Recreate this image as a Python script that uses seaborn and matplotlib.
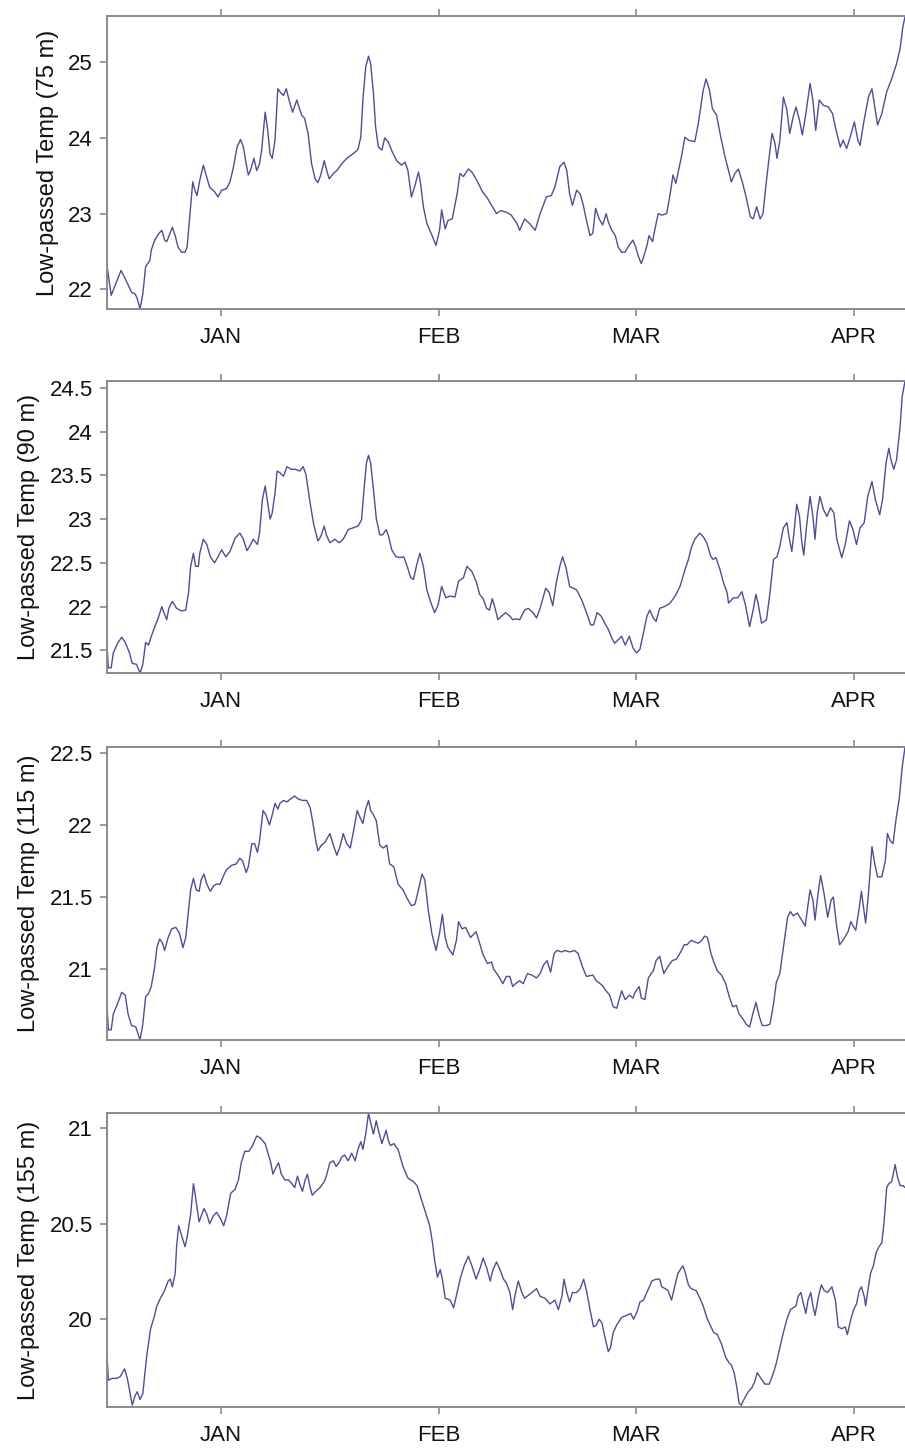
import matplotlib
matplotlib.use("Agg")
import seaborn as sns
from matplotlib import pyplot as plt

sns.set_style("ticks")
plt.rcParams['font.family'] = ['Liberation Sans', 'DejaVu Sans']

# days counted from 1 January
month_ticks = [0, 31, 59, 90]
month_labels = ["JAN", "FEB", "MAR", "APR"]

days_75 = [-16.2, -15.6, -14.2, -13.4, -12.7, -12.2, -11.9, -11.5, -11.1, -10.7, -10.4, -10.1, -9.9, -9.4, -8.8, -8.4,
           -8.0, -7.7, -6.9, -6.5, -6.1, -5.6, -5.1, -4.8, -4.3, -4.0, -3.7, -3.4, -3.0, -2.5, -2.0, -1.6, -0.9, -0.4,
           0.1, 0.8, 1.3, 1.8, 2.3, 2.8, 3.2, 3.6, 3.9, 4.2, 4.7, 5.1, 5.5, 5.8, 6.3, 6.6, 7.0, 7.3, 7.7, 8.1, 8.4, 8.9,
           9.3, 9.7, 10.2, 10.8, 11.1, 11.5, 11.9, 12.4, 12.9, 13.4, 13.8, 14.2, 14.7, 15.0, 15.4, 16.0, 16.5, 17.2,
           17.9, 18.8, 19.5, 19.9, 20.2, 20.6, 21.0, 21.3, 21.7, 22.0, 22.4, 22.9, 23.3, 23.8, 24.4, 25.0, 25.7, 26.2,
           26.6, 27.1, 27.6, 28.1, 28.4, 28.8, 29.3, 29.9, 30.6, 31.1, 31.4, 31.9, 32.3, 32.9, 33.6, 34.0, 34.5, 35.2,
           35.7, 36.4, 37.2, 37.8, 38.5, 39.2, 39.8, 40.6, 41.3, 42.1, 42.5, 43.2, 43.9, 44.7, 45.4, 46.3, 47.0, 47.5,
           48.2, 48.8, 49.2, 49.6, 50.0, 50.6, 51.1, 51.5, 52.0, 52.5, 52.9, 53.3, 53.8, 54.3, 54.8, 55.1, 55.6, 56.1,
           56.5, 57.0, 57.5, 57.9, 58.6, 59.0, 59.4, 59.8, 60.2, 60.6, 60.9, 61.4, 61.7, 62.2, 62.7, 63.4, 63.9, 64.3,
           64.7, 65.0, 65.5, 66.0, 66.5, 67.4, 67.9, 68.6, 69.0, 69.5, 69.9, 70.5, 71.1, 71.7, 72.2, 72.6, 73.1, 73.6,
           74.1, 74.7, 75.3, 75.7, 76.2, 76.7, 77.1, 77.6, 78.1, 78.4, 78.8, 79.1, 79.5, 80.0, 80.5, 80.9, 81.4, 81.8,
           82.3, 82.7, 83.2, 83.8, 84.2, 84.6, 85.1, 85.7, 86.4, 87.0, 87.5, 88.1, 88.5, 89.0, 89.5, 90.1, 90.6, 90.9,
           91.4, 92.1, 92.6, 93.0, 93.4, 94.0, 94.7, 95.4, 96.1, 96.6, 97.0, 97.3]
temp_75 = [22.32, 21.92, 22.25, 22.10, 21.96, 21.94, 21.88, 21.74, 21.94, 22.30, 22.34, 22.38, 22.52, 22.65, 22.74,
           22.78, 22.65, 22.63, 22.82, 22.71, 22.56, 22.49, 22.49, 22.56, 23.09, 23.42, 23.31, 23.24, 23.44, 23.64,
           23.48, 23.35, 23.29, 23.22, 23.31, 23.33, 23.42, 23.62, 23.88, 23.98, 23.88, 23.66, 23.51, 23.57, 23.73,
           23.57, 23.66, 23.84, 24.34, 24.15, 23.79, 23.73, 23.97, 24.65, 24.61, 24.56, 24.65, 24.50, 24.34, 24.50,
           24.41, 24.30, 24.26, 24.06, 23.66, 23.46, 23.41, 23.51, 23.70, 23.59, 23.46, 23.53, 23.57, 23.66, 23.73,
           23.79, 23.85, 24.01, 24.50, 24.94, 25.08, 24.98, 24.59, 24.15, 23.88, 23.84, 24.00, 23.95, 23.81, 23.70,
           23.64, 23.68, 23.57, 23.22, 23.37, 23.55, 23.40, 23.09, 22.87, 22.74, 22.58, 22.78, 23.05, 22.80, 22.91,
           22.93, 23.26, 23.53, 23.49, 23.59, 23.55, 23.44, 23.29, 23.22, 23.11, 23.00, 23.04, 23.02, 22.98, 22.87,
           22.78, 22.93, 22.87, 22.78, 23.00, 23.22, 23.24, 23.35, 23.62, 23.68, 23.57, 23.26, 23.11, 23.31, 23.26,
           23.13, 22.91, 22.71, 22.74, 23.07, 22.93, 22.85, 23.00, 22.89, 22.78, 22.71, 22.56, 22.49, 22.49, 22.56,
           22.65, 22.56, 22.43, 22.34, 22.45, 22.58, 22.71, 22.63, 22.78, 23.00, 22.98, 23.00, 23.26, 23.51, 23.40,
           23.53, 23.75, 24.01, 23.97, 23.95, 24.19, 24.63, 24.78, 24.63, 24.39, 24.30, 24.01, 23.75, 23.57, 23.42,
           23.53, 23.59, 23.44, 23.22, 22.96, 22.93, 23.09, 22.93, 23.00, 23.44, 23.84, 24.06, 23.93, 23.73, 23.97,
           24.54, 24.37, 24.06, 24.28, 24.41, 24.23, 24.04, 24.32, 24.72, 24.50, 24.10, 24.50, 24.43, 24.41, 24.32,
           24.10, 23.88, 23.97, 23.86, 24.01, 24.21, 23.97, 23.90, 24.19, 24.54, 24.65, 24.41, 24.17, 24.32, 24.61,
           24.78, 24.98, 25.18, 25.47, 25.60]

days_90 = [-16.2, -16.0, -15.6, -15.3, -14.7, -14.1, -13.6, -13.0, -12.6, -12.0, -11.5, -11.1, -10.7, -10.3, -9.9, -9.4,
           -8.9, -8.4, -8.1, -7.7, -7.4, -6.9, -6.3, -5.6, -5.0, -4.6, -4.3, -3.9, -3.6, -3.2, -3.0, -2.5, -2.0, -1.5,
           -0.9, -0.4, 0.1, 0.7, 1.3, 2.0, 2.7, 3.2, 3.7, 4.1, 4.6, 5.2, 5.5, 5.9, 6.3, 6.6, 7.0, 7.3, 7.7, 8.0, 8.4,
           8.9, 9.4, 10.0, 10.6, 11.2, 11.7, 12.1, 12.7, 13.2, 13.8, 14.2, 14.7, 15.0, 15.5, 16.2, 16.8, 17.4, 18.1,
           18.8, 19.5, 20.0, 20.4, 20.7, 21.0, 21.3, 21.7, 22.1, 22.6, 23.0, 23.5, 23.8, 24.3, 24.9, 25.5, 26.0, 26.5,
           27.0, 27.4, 27.8, 28.3, 28.8, 29.3, 29.8, 30.4, 30.9, 31.4, 32.0, 32.6, 33.3, 33.8, 34.5, 35.0, 35.7, 36.3,
           36.8, 37.3, 37.8, 38.2, 38.6, 39.0, 39.4, 39.9, 40.5, 41.1, 41.5, 41.9, 42.5, 43.2, 43.7, 44.4, 44.9, 45.4,
           46.2, 46.7, 47.2, 47.7, 48.2, 48.6, 49.1, 49.6, 50.1, 50.6, 51.3, 52.0, 52.6, 53.0, 53.5, 54.1, 54.6, 55.1,
           55.6, 56.0, 56.5, 57.0, 57.5, 58.1, 58.6, 59.1, 59.6, 60.1, 60.6, 61.0, 61.5, 61.9, 62.4, 63.1, 63.9, 64.6,
           65.3, 66.0, 66.5, 66.9, 67.4, 68.1, 68.6, 69.1, 69.7, 70.0, 70.4, 71.0, 71.5, 72.0, 72.2, 72.9, 73.5, 74.1,
           74.6, 75.2, 75.7, 76.1, 76.4, 76.9, 77.6, 78.1, 78.6, 79.1, 79.5, 80.0, 80.5, 80.8, 81.2, 81.5, 81.9, 82.3,
           82.6, 82.9, 83.3, 83.8, 84.2, 84.5, 84.8, 85.2, 85.7, 86.2, 86.7, 87.2, 87.6, 88.3, 88.8, 89.4, 89.9, 90.4,
           90.9, 91.5, 92.0, 92.6, 93.1, 93.7, 94.1, 94.6, 95.0, 95.3, 95.7, 96.1, 96.6, 96.9, 97.3]
temp_90 = [21.56, 21.30, 21.30, 21.47, 21.58, 21.65, 21.59, 21.47, 21.35, 21.34, 21.24, 21.34, 21.59, 21.56, 21.66,
           21.77, 21.87, 22.00, 21.93, 21.85, 21.98, 22.06, 21.98, 21.95, 21.96, 22.16, 22.46, 22.61, 22.46, 22.46,
           22.61, 22.77, 22.71, 22.57, 22.50, 22.57, 22.65, 22.57, 22.63, 22.78, 22.84, 22.77, 22.64, 22.69, 22.77,
           22.71, 22.84, 23.22, 23.38, 23.22, 23.00, 23.07, 23.30, 23.55, 23.53, 23.49, 23.60, 23.57, 23.57, 23.55,
           23.60, 23.51, 23.18, 22.94, 22.75, 22.80, 22.92, 22.82, 22.73, 22.77, 22.73, 22.77, 22.88, 22.90, 22.92,
           22.99, 23.38, 23.64, 23.73, 23.64, 23.34, 23.01, 22.82, 22.82, 22.88, 22.82, 22.65, 22.57, 22.56, 22.57,
           22.46, 22.33, 22.31, 22.46, 22.61, 22.46, 22.19, 22.06, 21.93, 22.02, 22.23, 22.10, 22.12, 22.11, 22.29,
           22.33, 22.46, 22.40, 22.29, 22.14, 22.09, 21.98, 21.96, 22.09, 21.98, 21.85, 21.89, 21.93, 21.89, 21.85,
           21.86, 21.85, 21.96, 21.98, 21.93, 21.87, 21.98, 22.21, 22.16, 22.01, 22.27, 22.46, 22.57, 22.44, 22.23,
           22.21, 22.19, 22.08, 21.93, 21.79, 21.79, 21.93, 21.89, 21.81, 21.74, 21.64, 21.58, 21.62, 21.66, 21.56,
           21.66, 21.53, 21.47, 21.51, 21.70, 21.89, 21.96, 21.87, 21.83, 21.98, 22.00, 22.04, 22.12, 22.23, 22.42,
           22.54, 22.67, 22.77, 22.84, 22.80, 22.73, 22.57, 22.54, 22.56, 22.42, 22.27, 22.16, 22.04, 22.10, 22.10,
           22.17, 22.02, 21.77, 21.96, 22.14, 22.04, 21.81, 21.85, 22.16, 22.54, 22.57, 22.69, 22.90, 22.96, 22.80,
           22.63, 22.84, 23.17, 23.03, 22.75, 22.59, 22.92, 23.26, 23.03, 22.77, 23.07, 23.26, 23.11, 23.03, 23.13,
           23.07, 22.77, 22.56, 22.71, 22.98, 22.88, 22.71, 22.90, 22.96, 23.26, 23.43, 23.22, 23.05, 23.22, 23.64,
           23.81, 23.68, 23.57, 23.68, 24.06, 24.40, 24.58]

days_115 = [-16.2, -16.0, -15.6, -15.3, -14.7, -14.1, -13.6, -13.2, -12.7, -12.1, -11.5, -11.1, -10.7, -10.3, -9.9,
            -9.4, -9.1, -8.7, -8.3, -8.0, -7.5, -7.0, -6.4, -5.9, -5.4, -5.0, -4.6, -4.3, -3.9, -3.5, -3.1, -2.8, -2.4,
            -2.0, -1.5, -1.0, -0.6, -0.1, 0.3, 0.8, 1.5, 2.2, 2.7, 3.1, 3.6, 3.9, 4.4, 4.8, 5.2, 5.5, 6.0, 6.4, 6.9,
            7.2, 7.7, 8.1, 8.4, 8.9, 9.4, 9.9, 10.5, 11.0, 11.6, 12.2, 12.7, 13.1, 13.5, 13.8, 14.3, 14.8, 15.5, 16.0,
            16.5, 17.0, 17.4, 17.9, 18.4, 18.8, 19.4, 19.8, 20.2, 20.6, 21.0, 21.3, 21.7, 22.1, 22.6, 23.1, 23.6,
            24.0, 24.6, 25.2, 25.9, 26.5, 27.1, 27.6, 28.1, 28.6, 29.0, 29.5, 30.0, 30.6, 31.1, 31.5, 31.9, 32.3,
            33.0, 33.5, 33.8, 34.3, 34.8, 35.5, 36.3, 36.8, 37.3, 37.9, 38.5, 38.8, 39.4, 40.1, 40.6, 41.1, 41.5,
            41.9, 42.5, 43.0, 43.6, 44.2, 44.9, 45.4, 45.9, 46.4, 46.9, 47.4, 47.8, 48.5, 48.9, 49.6, 50.3, 50.8,
            51.4, 52.0, 52.9, 53.4, 54.2, 54.8, 55.3, 55.8, 56.3, 57.0, 57.5, 58.1, 58.6, 58.9, 59.5, 59.8, 60.3,
            60.8, 61.5, 61.9, 62.4, 62.7, 63.0, 63.6, 64.2, 64.8, 65.4, 65.9, 66.3, 66.9, 67.4, 67.9, 68.4, 68.8,
            69.2, 69.7, 70.1, 70.6, 71.2, 71.8, 72.3, 72.8, 73.3, 73.7, 74.2, 74.7, 75.2, 75.6, 76.1, 76.6, 77.0,
            77.6, 78.1, 78.6, 79.0, 79.5, 80.0, 80.6, 81.0, 81.4, 82.0, 82.6, 83.1, 83.8, 84.2, 84.5, 84.9, 85.3,
            85.8, 86.3, 86.8, 87.1, 87.6, 88.0, 88.6, 89.2, 89.6, 89.9, 90.3, 90.8, 91.1, 91.5, 91.7, 92.1, 92.6,
            93.0, 93.4, 94.0, 94.5, 94.8, 95.2, 95.6, 96.0, 96.5, 96.9, 97.3]
temp_115 = [20.75, 20.58, 20.58, 20.69, 20.76, 20.84, 20.82, 20.69, 20.61, 20.60, 20.51, 20.62, 20.81, 20.83, 20.88,
            21.02, 21.15, 21.21, 21.18, 21.13, 21.22, 21.28, 21.29, 21.25, 21.15, 21.22, 21.41, 21.55, 21.63, 21.55,
            21.54, 21.62, 21.66, 21.59, 21.54, 21.58, 21.59, 21.59, 21.64, 21.69, 21.72, 21.73, 21.77, 21.75, 21.67,
            21.71, 21.87, 21.87, 21.81, 21.89, 22.10, 22.07, 22.00, 22.05, 22.15, 22.11, 22.15, 22.17, 22.16, 22.18,
            22.20, 22.18, 22.17, 22.17, 22.12, 22.01, 21.89, 21.82, 21.86, 21.88, 21.94, 21.86, 21.79, 21.86, 21.94,
            21.87, 21.84, 21.94, 22.10, 22.05, 22.01, 22.11, 22.17, 22.10, 22.07, 22.03, 21.86, 21.84, 21.86, 21.73,
            21.71, 21.59, 21.55, 21.49, 21.44, 21.45, 21.55, 21.66, 21.62, 21.41, 21.25, 21.13, 21.25, 21.38, 21.22,
            21.15, 21.10, 21.20, 21.33, 21.28, 21.29, 21.22, 21.26, 21.18, 21.10, 21.04, 21.05, 21.00, 20.96, 20.90,
            20.95, 20.95, 20.88, 20.90, 20.92, 20.90, 20.97, 20.96, 20.94, 20.97, 21.03, 21.06, 20.98, 21.11, 21.13,
            21.12, 21.13, 21.12, 21.13, 21.11, 21.02, 20.95, 20.96, 20.92, 20.89, 20.85, 20.82, 20.74, 20.73, 20.85,
            20.79, 20.82, 20.80, 20.84, 20.88, 20.80, 20.79, 20.94, 20.99, 21.06, 21.09, 21.03, 20.97, 21.02, 21.06,
            21.07, 21.12, 21.17, 21.17, 21.20, 21.19, 21.18, 21.20, 21.23, 21.22, 21.11, 21.05, 20.99, 20.96, 20.90,
            20.81, 20.74, 20.75, 20.69, 20.66, 20.62, 20.60, 20.68, 20.77, 20.67, 20.61, 20.61, 20.62, 20.76, 20.91,
            20.97, 21.15, 21.36, 21.40, 21.37, 21.39, 21.34, 21.30, 21.55, 21.48, 21.34, 21.51, 21.65, 21.52, 21.36,
            21.48, 21.50, 21.29, 21.17, 21.21, 21.26, 21.33, 21.30, 21.27, 21.43, 21.54, 21.39, 21.32, 21.52, 21.85,
            21.73, 21.64, 21.64, 21.75, 21.94, 21.89, 21.87, 22.03, 22.19, 22.40, 22.54]

days_155 = [-16.2, -16.0, -15.5, -14.8, -14.3, -13.7, -13.3, -12.9, -12.6, -12.2, -11.9, -11.5, -11.1, -10.8, -10.5,
            -10.0, -9.5, -9.1, -8.6, -8.0, -7.5, -7.2, -6.9, -6.5, -6.3, -6.0, -5.6, -5.1, -4.8, -4.3, -3.9, -3.6,
            -3.1, -2.8, -2.4, -2.0, -1.6, -1.1, -0.6, -0.1, 0.4, 0.8, 1.4, 2.0, 2.5, 2.9, 3.4, 4.0, 4.5, 5.1, 5.6,
            6.3, 6.7, 7.1, 7.4, 7.9, 8.2, 8.6, 9.1, 9.6, 10.1, 10.5, 10.9, 11.2, 11.6, 12.0, 12.3, 12.7, 13.0, 13.5,
            14.1, 14.7, 15.0, 15.5, 16.0, 16.4, 16.8, 17.2, 17.6, 18.1, 18.6, 19.1, 19.5, 19.9, 20.2, 20.6, 21.0,
            21.3, 21.7, 22.1, 22.4, 22.9, 23.5, 23.8, 24.1, 24.6, 25.2, 25.9, 26.6, 27.4, 27.9, 28.5, 29.2, 29.7,
            30.1, 30.4, 30.8, 31.2, 31.5, 31.9, 32.6, 33.1, 33.6, 34.1, 34.6, 35.2, 35.7, 36.3, 36.8, 37.3, 37.8,
            38.3, 38.7, 39.2, 39.7, 40.2, 40.6, 41.1, 41.5, 41.8, 42.3, 42.8, 43.2, 43.9, 44.9, 45.4, 46.1, 46.8,
            47.5, 48.0, 48.5, 48.8, 49.2, 49.6, 50.0, 50.6, 51.1, 51.6, 52.0, 52.5, 53.0, 53.4, 53.8, 54.2, 54.6,
            55.1, 55.4, 55.8, 56.3, 57.0, 57.7, 58.3, 58.7, 59.2, 59.6, 60.1, 60.7, 61.3, 61.9, 62.4, 62.7, 63.2,
            63.6, 64.1, 64.6, 65.0, 65.7, 66.0, 66.5, 66.9, 67.6, 68.0, 68.6, 69.1, 69.7, 70.1, 70.6, 71.2, 71.8,
            72.3, 72.6, 73.0, 73.4, 73.7, 74.0, 74.4, 75.0, 75.5, 75.9, 76.3, 76.8, 77.4, 78.0, 78.6, 79.0, 79.5,
            80.0, 80.5, 81.0, 81.4, 81.8, 82.1, 82.5, 82.8, 83.2, 83.5, 83.9, 84.2, 84.5, 85.0, 85.4, 85.8, 86.3,
            86.9, 87.4, 87.8, 88.3, 88.8, 89.1, 89.6, 90.0, 90.4, 90.8, 91.1, 91.5, 91.7, 92.1, 92.4, 92.8, 93.2,
            93.6, 94.0, 94.3, 94.7, 95.0, 95.4, 95.9, 96.2, 96.6, 97.0, 97.3]
temp_155 = [19.82, 19.68, 19.69, 19.69, 19.70, 19.74, 19.69, 19.61, 19.55, 19.60, 19.62, 19.58, 19.61, 19.72, 19.82,
            19.95, 20.01, 20.07, 20.11, 20.15, 20.20, 20.21, 20.17, 20.24, 20.38, 20.49, 20.44, 20.38, 20.43, 20.55,
            20.71, 20.64, 20.51, 20.54, 20.58, 20.55, 20.50, 20.54, 20.56, 20.53, 20.49, 20.54, 20.66, 20.68, 20.73,
            20.82, 20.88, 20.88, 20.91, 20.96, 20.95, 20.92, 20.87, 20.82, 20.76, 20.80, 20.82, 20.76, 20.73, 20.73,
            20.71, 20.69, 20.75, 20.71, 20.67, 20.73, 20.76, 20.69, 20.65, 20.67, 20.69, 20.72, 20.75, 20.82, 20.83,
            20.80, 20.82, 20.85, 20.86, 20.83, 20.87, 20.83, 20.89, 20.93, 20.89, 20.97, 21.08, 21.03, 20.97, 21.04,
            20.99, 20.92, 20.99, 20.94, 20.91, 20.92, 20.89, 20.80, 20.74, 20.72, 20.70, 20.63, 20.55, 20.49, 20.40,
            20.31, 20.22, 20.26, 20.21, 20.11, 20.10, 20.06, 20.14, 20.22, 20.28, 20.33, 20.28, 20.21, 20.26, 20.32,
            20.27, 20.20, 20.26, 20.30, 20.26, 20.21, 20.19, 20.14, 20.05, 20.12, 20.20, 20.14, 20.11, 20.13, 20.16,
            20.12, 20.11, 20.08, 20.10, 20.05, 20.12, 20.21, 20.14, 20.09, 20.14, 20.14, 20.16, 20.21, 20.15, 20.05,
            19.96, 19.97, 20.00, 19.98, 19.91, 19.83, 19.85, 19.93, 19.97, 20.01, 20.02, 20.03, 20.00, 20.04, 20.09,
            20.10, 20.15, 20.20, 20.21, 20.21, 20.17, 20.16, 20.15, 20.10, 20.18, 20.24, 20.28, 20.25, 20.18, 20.16,
            20.15, 20.12, 20.07, 20.01, 19.96, 19.93, 19.92, 19.87, 19.80, 19.77, 19.76, 19.72, 19.64, 19.56, 19.55,
            19.58, 19.62, 19.64, 19.67, 19.72, 19.69, 19.66, 19.66, 19.72, 19.77, 19.85, 19.93, 20.00, 20.05, 20.06,
            20.07, 20.12, 20.14, 20.09, 20.03, 20.10, 20.14, 20.07, 20.02, 20.12, 20.18, 20.15, 20.14, 20.17, 20.10,
            19.96, 19.95, 19.96, 19.92, 20.00, 20.05, 20.08, 20.15, 20.17, 20.12, 20.07, 20.17, 20.24, 20.28, 20.35,
            20.38, 20.40, 20.50, 20.69, 20.71, 20.72, 20.81, 20.75, 20.70, 20.70, 20.69]

labels = ["Low-passed Temp (75 m)", "Low-passed Temp (90 m)",
          "Low-passed Temp (115 m)", "Low-passed Temp (155 m)"]
yticks = [[22, 23, 24, 25],
          [21.5, 22, 22.5, 23, 23.5, 24, 24.5],
          [21, 21.5, 22, 22.5],
          [20, 20.5, 21]]
ylims = [(21.74, 25.61), (21.24, 24.58), (20.51, 22.54), (19.54, 21.08)]

series = [(days_75, temp_75), (days_90, temp_90), (days_115, temp_115), (days_155, temp_155)]

# axes boxes in figure fractions (left, bottom, width, height)
boxes = [(0.1182, 0.7866, 0.8818, 0.2023),
         (0.1182, 0.5352, 0.8818, 0.2017),
         (0.1182, 0.2818, 0.8818, 0.2023),
         (0.1182, 0.0283, 0.8818, 0.2030)]

line_color = "#4e4e94"
frame_color = "#8a8a8a"

fig = plt.figure(figsize=(9.05, 14.48), dpi=100)

for i in range(4):
    ax = fig.add_axes(boxes[i])
    days, temps = series[i]
    sns.lineplot(x=days, y=temps, ax=ax, color=line_color, linewidth=1.0,
                 estimator=None, sort=False)
    ax.set_xlim(-16.2, 97.3)
    ax.set_ylim(*ylims[i])
    ax.set_xticks(month_ticks)
    ax.set_xticklabels(month_labels)
    ax.set_yticks(yticks[i])
    ax.set_yticklabels(["%g" % t for t in yticks[i]])
    ax.set_ylabel(labels[i], fontsize=17, labelpad=7, color="#111111")
    ax.tick_params(axis="x", which="both", top=True, bottom=True, direction="out",
                   length=5, width=1.2, color=frame_color, labelsize=16, pad=8,
                   labelcolor="#111111")
    ax.tick_params(axis="y", left=True, right=False, direction="out",
                   length=5, width=1.2, color=frame_color, labelsize=16, pad=5,
                   labelcolor="#111111")
    for side in ["left", "top", "bottom"]:
        ax.spines[side].set_color(frame_color)
        ax.spines[side].set_linewidth(1.4)
    ax.spines["right"].set_visible(False)

fig.savefig("out.png", dpi=100)
